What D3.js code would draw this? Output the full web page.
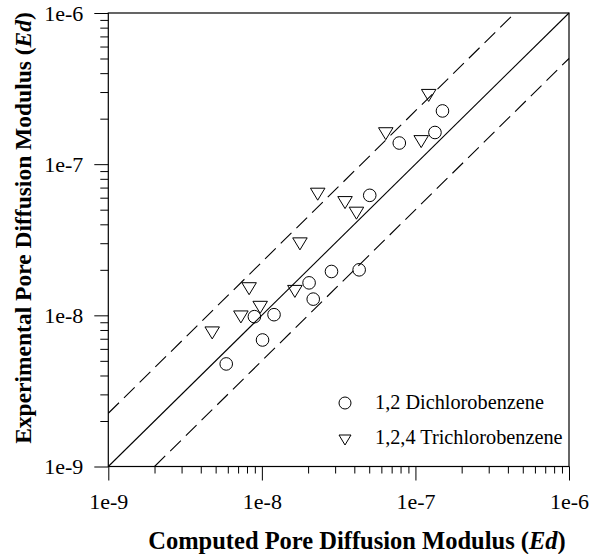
<!DOCTYPE html>
<html>
<head>
<meta charset="utf-8">
<script src="https://cdn.jsdelivr.net/npm/d3@7"></script>
<style>
  body { margin: 0; background: #fff; }
  svg text { font-family: "Liberation Serif", "Times New Roman", serif; fill: #000; }
</style>
</head>
<body>
<div id="chart"></div>
<script>
// data
var majorTicks = [1e-9, 1e-8, 1e-7, 1e-6];
var tickLabels = ["1e-9", "1e-8", "1e-7", "1e-6"];

// 1,2 Dichlorobenzene  [computed, experimental]
var dcbComputed     = [5.86e-9, 1.01e-8, 8.94e-9, 1.20e-8, 2.03e-8, 2.16e-8, 2.84e-8, 4.30e-8, 5.04e-8, 7.85e-8, 1.34e-7, 1.50e-7];
var dcbExperimental = [4.77e-9, 6.87e-9, 9.80e-9, 1.01e-8, 1.64e-8, 1.28e-8, 1.95e-8, 2.00e-8, 6.22e-8, 1.38e-7, 1.62e-7, 2.25e-7];

// 1,2,4 Trichlorobenzene
var tcbComputed     = [4.75e-9, 7.30e-9, 9.75e-9, 8.26e-9, 1.64e-8, 1.77e-8, 2.31e-8, 3.48e-8, 4.13e-8, 6.41e-8, 1.09e-7, 1.22e-7];
var tcbExperimental = [7.65e-9, 9.76e-9, 1.13e-8, 1.50e-8, 1.44e-8, 2.97e-8, 6.33e-8, 5.57e-8, 4.74e-8, 1.59e-7, 1.41e-7, 2.85e-7];

// reference lines (end points)
var parityLine = [[1e-9, 1e-9], [1e-6, 1e-6]];
var upperLine  = [[1e-9, 2.25e-9], [4.44e-7, 1e-6]];
var lowerLine  = [[2e-9, 1e-9], [1e-6, 5e-7]];

var legendNames = ["1,2 Dichlorobenzene", "1,2,4 Trichlorobenzene"];

var width = 589, height = 554;
var svg = d3.select("#chart").append("svg")
  .attr("width", width)
  .attr("height", height);

var x = d3.scaleLog().domain([1e-9, 1e-6]).range([108.3, 569]);
var y = d3.scaleLog().domain([1e-9, 1e-6]).range([466.5, 13]);

// minor ticks 2..9 in each decade
var minorTicks = [];
majorTicks.slice(0, -1).forEach(function (d) {
  for (var k = 2; k <= 9; k++) minorTicks.push(d * k);
});

var fmt = function (d) { return tickLabels[majorTicks.indexOf(d)]; };

// x axis
svg.append("g")
  .attr("transform", "translate(0," + y(1e-9) + ")")
  .call(d3.axisBottom(x).tickValues(minorTicks).tickSize(7).tickFormat("").tickSizeOuter(0))
  .call(function (g) { g.select(".domain").remove(); });
var xa = svg.append("g")
  .attr("transform", "translate(0," + y(1e-9) + ")")
  .call(d3.axisBottom(x).tickValues(majorTicks).tickSize(14).tickPadding(13).tickFormat(fmt).tickSizeOuter(0));
xa.selectAll("text").style("font-size", "22px");
xa.select(".domain").remove();

// y axis
svg.append("g")
  .attr("transform", "translate(" + x(1e-9) + ",0)")
  .call(d3.axisLeft(y).tickValues(minorTicks).tickSize(8).tickFormat("").tickSizeOuter(0))
  .call(function (g) { g.select(".domain").remove(); });
var ya = svg.append("g")
  .attr("transform", "translate(" + x(1e-9) + ",0)")
  .call(d3.axisLeft(y).tickValues(majorTicks).tickSize(14).tickPadding(11).tickFormat(fmt).tickSizeOuter(0));
ya.selectAll("text").style("font-size", "22px");
ya.select(".domain").remove();

// frame
svg.append("rect")
  .attr("x", x(1e-9)).attr("y", y(1e-6))
  .attr("width", x(1e-6) - x(1e-9))
  .attr("height", y(1e-9) - y(1e-6))
  .attr("fill", "none").attr("stroke", "#000").attr("stroke-width", 1.2);

// lines
var line = d3.line().x(function (d) { return x(d[0]); }).y(function (d) { return y(d[1]); });
svg.append("path").attr("d", line(parityLine))
  .attr("fill", "none").attr("stroke", "#000").attr("stroke-width", 1.1);
[upperLine, lowerLine].forEach(function (l) {
  svg.append("path").attr("d", line(l))
    .attr("fill", "none").attr("stroke", "#000").attr("stroke-width", 1.1)
    .attr("stroke-dasharray", "15,7");
});

// markers
var triangle = function (cx, cy, w, h) {
  return "M" + (cx - w / 2) + "," + (cy - h / 2) + "L" + (cx + w / 2) + "," + (cy - h / 2) +
    "L" + cx + "," + (cy + h / 2) + "Z";
};

svg.append("g").selectAll("circle")
  .data(d3.zip(dcbComputed, dcbExperimental))
  .enter().append("circle")
  .attr("cx", function (d) { return x(d[0]); })
  .attr("cy", function (d) { return y(d[1]); })
  .attr("r", 6.3)
  .attr("fill", "none").attr("stroke", "#000").attr("stroke-width", 1);

svg.append("g").selectAll("path")
  .data(d3.zip(tcbComputed, tcbExperimental))
  .enter().append("path")
  .attr("d", function (d) { return triangle(x(d[0]), y(d[1]), 14.5, 12); })
  .attr("fill", "none").attr("stroke", "#000").attr("stroke-width", 1);

// legend
var legend = svg.append("g");
legend.append("circle").attr("cx", 345).attr("cy", 403).attr("r", 6)
  .attr("fill", "none").attr("stroke", "#000");
legend.append("path").attr("d", triangle(345, 440, 12, 10))
  .attr("fill", "none").attr("stroke", "#000");
legend.selectAll("text.leg")
  .data(legendNames)
  .enter().append("text")
  .attr("class", "leg")
  .attr("x", 375)
  .attr("y", function (d, i) { return 409 + i * 35; })
  .style("font-size", "20.3px")
  .text(function (d) { return d; });

// axis titles
var xt = svg.append("text")
  .attr("x", 357).attr("y", 549)
  .attr("text-anchor", "middle")
  .style("font-size", "24.5px").style("font-weight", "bold")
  .text("Computed Pore Diffusion Modulus (");
xt.append("tspan").style("font-style", "italic").text("Ed");
xt.append("tspan").text(")");

var yt = svg.append("text")
  .attr("transform", "translate(31,228) rotate(-90)")
  .attr("text-anchor", "middle")
  .style("font-size", "23.5px").style("font-weight", "bold")
  .text("Experimental Pore Diffusion Modulus (");
yt.append("tspan").style("font-style", "italic").text("Ed");
yt.append("tspan").text(")");
</script>
</body>
</html>
